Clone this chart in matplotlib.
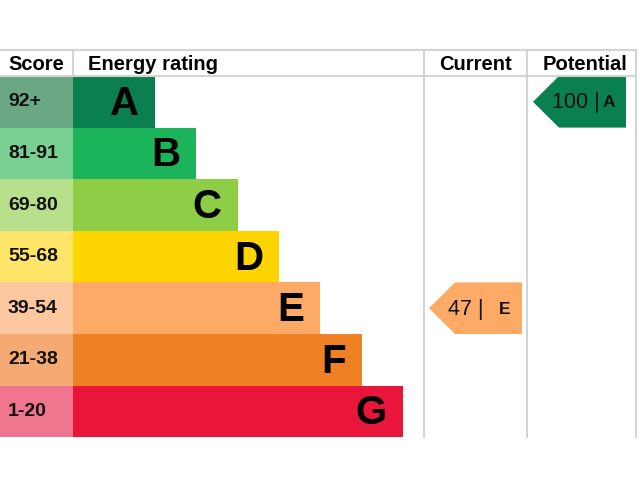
import numpy as np
import matplotlib
matplotlib.use("Agg")
import matplotlib.pyplot as plt
from matplotlib.patches import Polygon

# data
bands = ["A", "B", "C", "D", "E", "F", "G"]
score_ranges = ["92+", "81-91", "69-80", "55-68", "39-54", "21-38", "1-20"]
band_floor = [92, 81, 69, 55, 39, 21, 1]
bar_colors = ["#0a7f50", "#1bb45a", "#8dce46", "#ffd500", "#fcaa65", "#ef8023", "#e9153b"]
score_colors = ["#6aa785", "#7acf93", "#b8e08c", "#ffe46a", "#fdc89f", "#f4aa72", "#f0758e"]
current_score = 47
potential_score = 100

plt.rcParams["font.family"] = ["Liberation Sans", "DejaVu Sans"]

# layout, in pixels
top, head_h, row_h = 50, 26, 51.6
score_w = 73
bar_base, bar_step = 82, 41.3
col_cur, col_pot, col_end = 424, 527, 636
grid = "#d4d4d4"


def band_of(score):
    for i, f in enumerate(band_floor):
        if score >= f:
            return i
    return len(bands) - 1


fig = plt.figure(figsize=(6.4, 4.8), dpi=100)
ax = fig.add_axes([0, 0, 1, 1])
ax.set_xlim(0, 640)
ax.set_ylim(480, 0)
ax.axis("off")

n = len(bands)
y0 = top + head_h
ys = y0 + (np.arange(n) + 0.5) * row_h
lengths = bar_base + bar_step * np.arange(n)

ax.barh(ys, [score_w] * n, height=row_h, left=0, color=score_colors, linewidth=0)
ax.barh(ys, lengths, height=row_h, left=score_w, color=bar_colors, linewidth=0)

for i in range(n):
    ax.text(8, ys[i], score_ranges[i], fontsize=14, fontweight="bold",
            va="center", ha="left", color="#111111")
    ax.text(score_w + lengths[i] - 16, ys[i] + 2, bands[i], fontsize=29,
            fontweight="bold", va="center", ha="right", color="#000000")

# grid lines
bottom = y0 + n * row_h
ax.plot([0, col_end], [top, top], color=grid, lw=1.5)
ax.plot([0, col_end], [y0, y0], color=grid, lw=1.5)
ax.plot([score_w, score_w], [top, y0], color=grid, lw=1.5)
for x in (col_cur, col_pot, col_end):
    ax.plot([x, x], [top, bottom], color=grid, lw=1.5)

# headers
hy = top + head_h / 2 + 1
hs = 14.5
ax.text(8, hy, "Score", fontsize=hs, fontweight="bold", va="center", ha="left")
ax.text(88, hy, "Energy rating", fontsize=hs, fontweight="bold", va="center", ha="left")
ax.text((col_cur + col_pot) / 2, hy, "Current", fontsize=hs, fontweight="bold",
        va="center", ha="center")
ax.text((col_pot + col_end) / 2 + 3, hy, "Potential", fontsize=hs, fontweight="bold",
        va="center", ha="center")


def arrow(score, x_left, x_right, sep):
    i = band_of(score)
    yt, yb = y0 + i * row_h, y0 + (i + 1) * row_h
    tip = 26
    pts = [(x_left, (yt + yb) / 2), (x_left + tip, yt), (x_right, yt),
           (x_right, yb), (x_left + tip, yb)]
    ax.add_patch(Polygon(pts, closed=True, color=bar_colors[i], lw=0))
    yc = (yt + yb) / 2 + 1
    ax.text(x_left + 19, yc, f"{score} |", fontsize=15.5, va="center", ha="left",
            color="#111111")
    ax.text(x_left + sep, yc, bands[i], fontsize=12.5, fontweight="bold",
            va="center", ha="left", color="#111111")


arrow(current_score, col_cur + 5, col_cur + 98, 70)
arrow(potential_score, col_pot + 6, col_pot + 99, 70)

fig.savefig("out.png", dpi=100)
